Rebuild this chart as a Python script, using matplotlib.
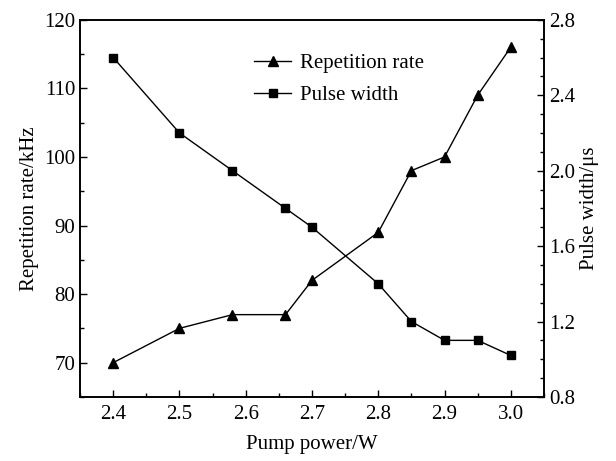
import matplotlib
matplotlib.use('Agg')
import matplotlib.pyplot as plt
from matplotlib.ticker import MultipleLocator

plt.rcParams['font.family'] = ['Liberation Serif', 'DejaVu Serif']
plt.rcParams['mathtext.fontset'] = 'stix'

# pump power (W)
power = [2.4, 2.5, 2.58, 2.66, 2.7, 2.8, 2.85, 2.9, 2.95, 3.0]
# repetition rate (kHz)
rep_rate = [70, 75, 77, 77, 82, 89, 98, 100, 109, 116]
# pulse width (us)
pulse_width = [2.6, 2.2, 2.0, 1.8, 1.7, 1.4, 1.2, 1.1, 1.1, 1.02]

x_ticks = [2.4, 2.5, 2.6, 2.7, 2.8, 2.9, 3.0]
left_ticks = [70, 80, 90, 100, 110, 120]
right_ticks = [0.8, 1.2, 1.6, 2.0, 2.4, 2.8]

fig = plt.figure(figsize=(6.16, 4.61), dpi=100)
ax = fig.add_axes([0.130, 0.139, 0.753, 0.818])
ax2 = ax.twinx()

l1, = ax.plot(power, rep_rate, color='black', lw=1.0, marker='^', ms=7,
              label='Repetition rate')
l2, = ax2.plot(power, pulse_width, color='black', lw=1.0, marker='s', ms=6,
               label='Pulse width')

ax.set_xlim(2.35, 3.05)
ax.set_ylim(65, 120)
ax2.set_ylim(0.8, 2.8)

ax.set_xticks(x_ticks)
ax.set_xticklabels([f'{v:.1f}' for v in x_ticks])
ax.set_yticks(left_ticks)
ax2.set_yticks(right_ticks)
ax2.set_yticklabels([f'{v:.1f}' for v in right_ticks])
ax.xaxis.set_minor_locator(MultipleLocator(0.05))
ax.yaxis.set_minor_locator(MultipleLocator(5))
ax2.yaxis.set_minor_locator(MultipleLocator(0.1))

for a in (ax, ax2):
    a.tick_params(which='major', direction='in', length=5, width=1, labelsize=15)
    a.tick_params(which='minor', direction='in', length=3, width=1)
    for s in a.spines.values():
        s.set_linewidth(1.2)
ax.tick_params(axis='x', which='both', top=False, pad=6)
ax.tick_params(axis='y', which='both', right=False)

ax.set_xlabel('Pump power/W', fontsize=15, labelpad=8)
ax.set_ylabel('Repetition rate/kHz', fontsize=15)
ax2.set_ylabel('Pulse width/\u03bcs', fontsize=15)

ax.legend([l1, l2], ['Repetition rate', 'Pulse width'], loc='upper left',
          bbox_to_anchor=(0.334, 0.96), frameon=False, fontsize=15,
          handlelength=1.8, handletextpad=0.4, labelspacing=0.6)

fig.savefig('out.png', dpi=100)
